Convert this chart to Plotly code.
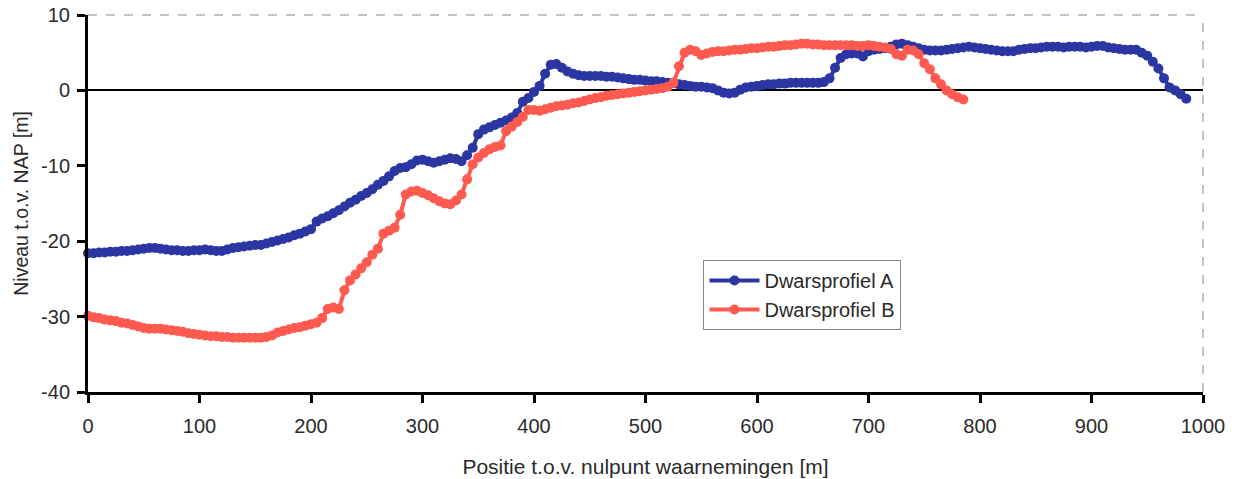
import plotly.graph_objects as go

# Dwarsprofiel A: positions every 5 m (0..985) and levels [m NAP]
x_a = list(range(0, 990, 5))
y_a = [
    -21.6, -21.6, -21.5, -21.5, -21.4, -21.4, -21.3, -21.3, -21.2, -21.1,
    -21.0, -20.9, -20.9, -21.0, -21.1, -21.2, -21.2, -21.3, -21.3, -21.2,
    -21.2, -21.1, -21.2, -21.3, -21.3, -21.1, -20.9, -20.8, -20.7, -20.6,
    -20.5, -20.5, -20.3, -20.1, -19.9, -19.7, -19.5, -19.2, -19.0, -18.7,
    -18.4, -17.4, -17.0, -16.7, -16.3, -15.9, -15.4, -14.9, -14.5, -14.0,
    -13.6, -13.1, -12.5, -12.0, -11.4, -10.7, -10.3, -10.2, -9.8, -9.3,
    -9.2, -9.4, -9.6, -9.4, -9.2, -9.0, -9.1, -9.4, -8.6, -7.6,
    -5.8, -5.2, -4.9, -4.6, -4.3, -4.0, -3.6, -3.0, -1.5, -1.0,
    -0.2, 0.6, 2.2, 3.4, 3.5, 3.0, 2.5, 2.2, 2.0, 1.9,
    1.9, 1.9, 1.9, 1.8, 1.8, 1.7, 1.6, 1.5, 1.4, 1.4,
    1.3, 1.2, 1.2, 1.1, 1.0, 1.0, 0.8, 0.7, 0.6, 0.5,
    0.5, 0.4, 0.3, 0.0, -0.3, -0.4, -0.3, 0.1, 0.4, 0.5,
    0.6, 0.7, 0.8, 0.8, 0.9, 0.9, 1.0, 1.0, 1.0, 1.0,
    1.0, 1.0, 1.1, 1.6, 3.0, 4.3, 4.8, 4.9, 4.9, 4.5,
    5.2, 5.4, 5.5, 5.6, 5.8, 6.1, 6.2, 6.0, 5.8, 5.6,
    5.4, 5.3, 5.3, 5.3, 5.4, 5.5, 5.6, 5.7, 5.8, 5.7,
    5.6, 5.5, 5.4, 5.3, 5.2, 5.2, 5.2, 5.4, 5.5, 5.6,
    5.6, 5.7, 5.8, 5.8, 5.8, 5.7, 5.8, 5.8, 5.8, 5.7,
    5.8, 5.9, 5.9, 5.7, 5.6, 5.5, 5.4, 5.4, 5.4, 5.0,
    4.6, 3.8, 2.9, 1.6, 0.4, 0.0, -0.5, -1.1,
]

# Dwarsprofiel B: positions every 5 m (0..785) and levels [m NAP]
x_b = list(range(0, 790, 5))
y_b = [
    -29.9, -30.1, -30.2, -30.4, -30.5, -30.6, -30.8, -30.9, -31.1, -31.3,
    -31.5, -31.6, -31.6, -31.6, -31.7, -31.8, -31.9, -32.0, -32.2, -32.3,
    -32.4, -32.5, -32.6, -32.6, -32.7, -32.7, -32.8, -32.8, -32.8, -32.8,
    -32.8, -32.8, -32.7, -32.5, -32.1, -31.9, -31.7, -31.5, -31.4, -31.2,
    -31.0, -30.8, -30.2, -29.0, -28.8, -29.0, -26.5, -25.2, -24.4, -23.6,
    -22.8, -21.8, -21.0, -19.0, -18.6, -18.2, -16.5, -13.8, -13.4, -13.3,
    -13.6, -13.9, -14.3, -14.7, -15.0, -15.1, -14.6, -13.8, -11.8, -9.8,
    -8.9, -8.3, -7.8, -7.5, -7.3, -5.4, -4.8, -4.2, -3.5, -2.6,
    -2.6, -2.7, -2.5, -2.3, -2.1, -2.0, -1.9, -1.7, -1.6, -1.4,
    -1.2, -1.0, -0.9, -0.7, -0.6, -0.5, -0.4, -0.3, -0.2, -0.1,
    0.0, 0.1, 0.2, 0.3, 0.5, 1.0, 3.2, 5.0, 5.4, 5.2,
    4.7, 4.9, 5.1, 5.2, 5.2, 5.3, 5.4, 5.4, 5.5, 5.6,
    5.6, 5.7, 5.8, 5.8, 5.9, 6.0, 6.0, 6.1, 6.2, 6.2,
    6.1, 6.1, 6.0, 6.0, 6.0, 6.0, 6.0, 6.0, 5.9, 5.9,
    6.0, 5.9, 5.8, 5.7, 5.5, 4.8, 4.6, 5.4, 5.3, 4.8,
    3.6, 2.8, 1.6, 0.8, 0.0, -0.5, -0.9, -1.2,
]

x_ticks = [0, 100, 200, 300, 400, 500, 600, 700, 800, 900, 1000]
y_ticks = [-40, -30, -20, -10, 0, 10]
y_tick_text = ["-40", "-30", "-20", "-10", "0", "10"]

FONT = "Liberation Sans, Arial, sans-serif"
TXT = "#2a2a2a"
BLUE = "#2b36a3"
RED = "#ff5a4f"

fig = go.Figure()
fig.add_trace(go.Scatter(
    x=x_a, y=y_a, mode="lines+markers", name="Dwarsprofiel A",
    line=dict(color=BLUE, width=4),
    marker=dict(color=BLUE, size=10, line=dict(width=0)),
    cliponaxis=False,
))
fig.add_trace(go.Scatter(
    x=x_b, y=y_b, mode="lines+markers", name="Dwarsprofiel B",
    line=dict(color=RED, width=4),
    marker=dict(color=RED, size=10, line=dict(width=0)),
    cliponaxis=False,
))

fig.update_layout(
    width=1242, height=479,
    margin=dict(l=88, r=39, t=15, b=87, autoexpand=False),
    paper_bgcolor="white", plot_bgcolor="white",
    font=dict(family=FONT, size=20, color=TXT),
    showlegend=True,
    legend=dict(
        x=0.552, y=0.35, xanchor="left", yanchor="top",
        bgcolor="white", bordercolor="#888888", borderwidth=1,
        font=dict(family=FONT, size=20, color=TXT),
        itemwidth=50, tracegroupgap=2,
    ),
    xaxis=dict(
        range=[0, 1000], tickvals=x_ticks, ticks="outside", ticklen=8,
        tickwidth=3, tickcolor="black", showline=True, linecolor="black",
        linewidth=3, showgrid=False, zeroline=False, automargin=False,
        ticklabelstandoff=6,
        tickfont=dict(family=FONT, size=20, color=TXT),
        title=dict(text="Positie t.o.v. nulpunt waarnemingen [m]",
                   font=dict(family=FONT, size=21, color=TXT),
                   standoff=24),
    ),
    yaxis=dict(
        range=[-40, 10], tickvals=y_ticks, ticktext=y_tick_text,
        ticks="outside", ticklen=8,
        tickwidth=3, tickcolor="black", showline=True, linecolor="black",
        linewidth=3, showgrid=False, zeroline=True, zerolinecolor="black",
        zerolinewidth=2, automargin=False, ticklabelstandoff=3,
        tickfont=dict(family=FONT, size=20, color=TXT),
        title=dict(text="Niveau t.o.v. NAP [m]",
                   font=dict(family=FONT, size=19.5, color=TXT),
                   standoff=8),
    ),
    shapes=[
        dict(type="line", xref="paper", yref="paper", x0=0, x1=1, y0=1, y1=1,
             line=dict(color="#888888", width=1, dash="dash")),
        dict(type="line", xref="paper", yref="paper", x0=1, x1=1, y0=0, y1=1,
             line=dict(color="#888888", width=1, dash="dash")),
    ],
)

fig.write_html("out.html")
